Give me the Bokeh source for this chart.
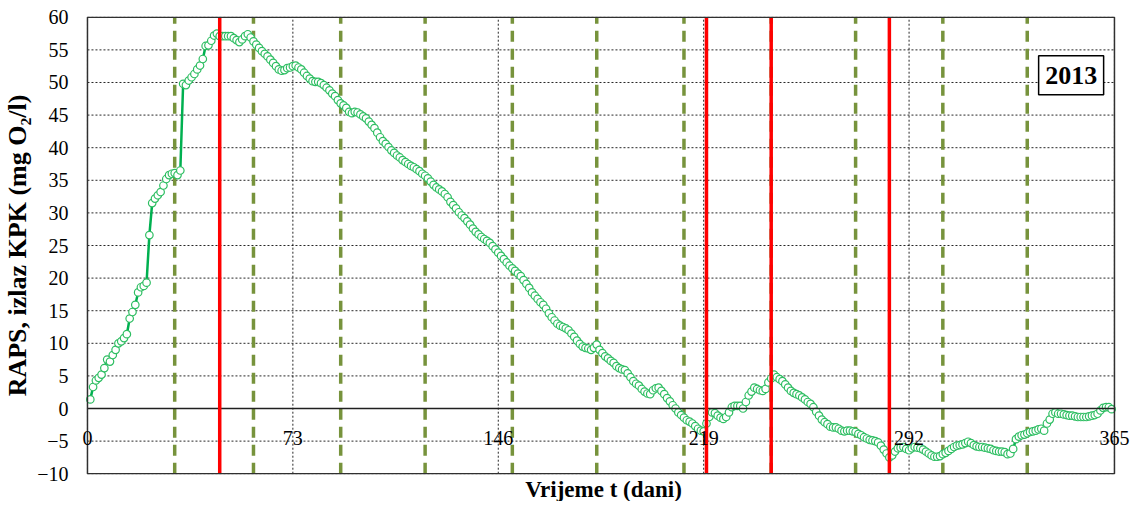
from bokeh.plotting import figure
from bokeh.models import Range1d, FixedTicker, Label, Title, ColumnDataSource
from bokeh.embed import file_html
from bokeh.resources import INLINE

# ---------------- data ----------------
days = list(range(1, 365))
raps = [
    1.4, 3.3, 4.3, 4.7, 5.2, 6.2, 7.5, 7.2, 8.2, 9.0,
    10.0, 10.3, 10.8, 11.4, 13.8, 14.8, 15.9, 17.8, 18.6, 18.8,
    19.3, 26.6, 31.5, 32.2, 32.7, 33.2, 34.2, 35.2, 35.8, 36.0,
    36.1, 35.8, 36.5, 49.8, 49.6, 50.3, 50.8, 51.3, 52.0, 52.6,
    53.6, 55.6, 55.7, 56.4, 57.2, 57.5, 57.1, 57.1, 57.1, 57.1,
    57.1, 56.8, 56.5, 56.2, 56.6, 57.1, 57.4, 56.9, 56.3, 55.8,
    55.3, 54.8, 54.4, 54.0, 53.5, 53.0, 52.5, 52.0, 51.8, 51.9,
    52.2, 52.3, 52.5, 52.6, 52.3, 52.0, 51.5, 51.0, 50.6, 50.2,
    50.1, 50.1, 49.9, 49.6, 49.2, 48.8, 48.3, 47.9, 47.3, 46.8,
    46.5, 46.1, 45.5, 45.3, 45.5, 45.4, 45.1, 44.8, 44.5, 44.0,
    43.5, 43.0, 42.3, 41.6, 41.0, 40.6, 40.1, 39.6, 39.2, 38.8,
    38.5, 38.1, 37.8, 37.5, 37.2, 37.0, 36.7, 36.4, 36.0, 35.7,
    35.3, 34.8, 34.3, 33.9, 33.6, 33.3, 32.9, 32.4, 31.7, 31.2,
    30.7, 30.1, 29.6, 29.2, 28.7, 28.2, 27.6, 27.1, 26.7, 26.3,
    26.0, 25.7, 25.4, 24.9, 24.4, 23.9, 23.4, 22.9, 22.4, 21.9,
    21.5, 21.1, 20.7, 20.3, 19.7, 19.1, 18.5, 17.8, 17.3, 16.8,
    16.3, 15.9, 15.3, 14.6, 14.0, 13.5, 13.0, 12.7, 12.5, 12.3,
    12.0, 11.5, 11.0, 10.4, 9.9, 9.5, 9.3, 9.2, 9.0, 9.3,
    9.8, 9.0, 8.5, 8.0, 7.7, 7.3, 7.0, 6.5, 6.2, 6.0,
    5.9, 5.4, 4.8, 4.2, 3.8, 3.5, 3.0, 2.6, 2.3, 2.2,
    2.8, 3.1, 3.2, 2.7, 2.2, 1.6, 1.1, 0.5, 0.0, -0.6,
    -1.0, -1.4, -1.8, -2.0, -2.3, -2.7, -3.1, -3.4, -3.5, -2.3,
    -1.3, -0.6, -0.7, -1.1, -1.4, -1.6, -1.3, -0.6, 0.2, 0.4,
    0.4, 0.4, 0.0, 1.0, 2.0, 2.6, 3.2, 3.0, 2.8, 2.7,
    3.0, 4.0, 4.6, 5.2, 4.8, 4.5, 4.2, 3.7, 3.2, 2.7,
    2.4, 2.2, 2.0, 1.7, 1.4, 1.0, 0.7, 0.2, -0.5, -1.1,
    -1.7, -2.1, -2.4, -2.8, -2.9, -2.9, -3.1, -3.4, -3.5, -3.4,
    -3.4, -3.5, -3.6, -3.9, -4.1, -4.4, -4.6, -4.8, -4.9, -5.0,
    -5.2, -5.7, -6.3, -6.9, -7.5, -7.2, -6.6, -6.1, -6.0, -5.9,
    -6.2, -6.4, -6.1, -5.9, -6.0, -6.1, -6.3, -6.6, -6.9, -7.2,
    -7.4, -7.4, -7.3, -7.0, -6.8, -6.5, -6.2, -5.9, -5.7, -5.6,
    -5.5, -5.3, -5.1, -5.3, -5.6, -5.8, -5.9, -5.9, -6.0, -6.1,
    -6.2, -6.4, -6.5, -6.6, -6.6, -6.7, -7.0, -6.9, -6.2, -4.7,
    -4.3, -4.1, -4.0, -3.8, -3.6, -3.5, -3.4, -3.2, -3.1, -3.4,
    -2.3, -1.7, -0.8, -0.6, -0.8, -0.8, -0.9, -1.0, -1.1, -1.1,
    -1.2, -1.3, -1.3, -1.3, -1.3, -1.2, -1.1, -1.0, -0.8, -0.3,
    0.1, 0.2, 0.2, -0.1,
]
x_ticks = [0, 73, 146, 219, 292, 365]
x_tick_labels = ["0", "73", "146", "219", "292", "365"]
y_ticks = [-10, -5, 0, 5, 10, 15, 20, 25, 30, 35, 40, 45, 50, 55, 60]
month_bounds = [31, 59, 90, 120, 151, 181, 212, 243, 273, 304, 334]
red_days = [47, 220, 243, 285]
year_label = "2013"
x_title = "Vrijeme t (dani)"
y_title = "RAPS, izlaz KPK (mg O\u2082/l)"

FONT = "Liberation Serif"
X0, X1 = x_ticks[0], x_ticks[-1]
Y0, Y1 = y_ticks[0], y_ticks[-1]

src = ColumnDataSource(dict(day=days, raps=raps))

# frame is a little wider than the 0..365 box so that end tick labels are not clipped
p = figure(width=1132, height=501,
           x_range=Range1d(X0 - 3.9, X1 + 5.7), y_range=Range1d(Y0 - 0.12, Y1 + 0.12),
           x_axis_type=None,
           output_backend="svg", toolbar_location=None,
           min_border_left=60, min_border_right=2,
           min_border_top=16, min_border_bottom=18)
p.background_fill_color = "white"
p.border_fill_color = "white"
p.outline_line_color = None

# y axis
yax = p.yaxis[0]
yax.ticker = FixedTicker(ticks=y_ticks)
yax.axis_line_color = None
yax.major_tick_line_color = None
yax.minor_tick_line_color = None
yax.major_label_text_font = FONT
yax.major_label_text_font_size = "20px"
yax.major_label_text_color = "black"
yax.major_label_standoff = 2
yax.axis_label = y_title
yax.axis_label_text_font = FONT
yax.axis_label_text_font_size = "26px"
yax.axis_label_text_font_style = "bold"
yax.axis_label_text_color = "black"
yax.axis_label_standoff = 2
p.ygrid.visible = False

# dotted grid inside the box
n_y = len(y_ticks)
p.segment(x0=[X0] * n_y, x1=[X1] * n_y, y0=y_ticks, y1=y_ticks,
          line_color="black", line_dash="2 2", line_width=1, line_alpha=0.85)
n_x = len(x_ticks)
p.segment(x0=x_ticks, x1=x_ticks, y0=[Y0] * n_x, y1=[Y1] * n_x,
          line_color="black", line_dash="2 2", line_width=1, line_alpha=0.85)

p.add_layout(Title(text=x_title, align="center", text_font=FONT,
                   text_font_size="23px", text_font_style="bold",
                   text_color="black", standoff=0), "below")

# month boundaries (olive dashed)
n_m = len(month_bounds)
p.segment(x0=month_bounds, x1=month_bounds, y0=[Y0] * n_m, y1=[Y1] * n_m,
          line_color="#77933C", line_width=3.5, line_dash="11 7")

# data
p.line("day", "raps", source=src, line_color="#00B050", line_width=2.5)
p.scatter("day", "raps", source=src, marker="circle", size=7.5,
          fill_color="white", line_color="#2EBE62", line_width=1.2)

# zero line (x axis)
p.segment(x0=[X0], x1=[X1], y0=[0], y1=[0], line_color="#202020", line_width=1.5)

# red event lines
n_r = len(red_days)
p.segment(x0=red_days, x1=red_days, y0=[Y0] * n_r, y1=[Y1] * n_r,
          line_color="#FF0000", line_width=3.5)

# plot box
p.quad(left=[X0], right=[X1], bottom=[Y0], top=[Y1], fill_color=None,
       line_color="#303030", line_width=1.5)

# x tick labels just below the zero line
for tx, tl in zip(x_ticks, x_tick_labels):
    p.add_layout(Label(x=tx, y=0, text=tl, y_offset=-29,
                       text_align="center", text_baseline="middle",
                       text_font=FONT, text_font_size="20px",
                       text_color="black"))

# year box
p.rect(x=[349.6], y=[51.1], width=65, height=39, width_units="screen",
       height_units="screen", fill_color="white", line_color="black",
       line_width=1.5)
p.add_layout(Label(x=349.6, y=51.1, text=year_label, text_font=FONT,
                   text_font_size="26px", text_font_style="bold",
                   text_color="black", text_align="center",
                   text_baseline="middle"))

open("out.html", "w").write(file_html(p, INLINE))
